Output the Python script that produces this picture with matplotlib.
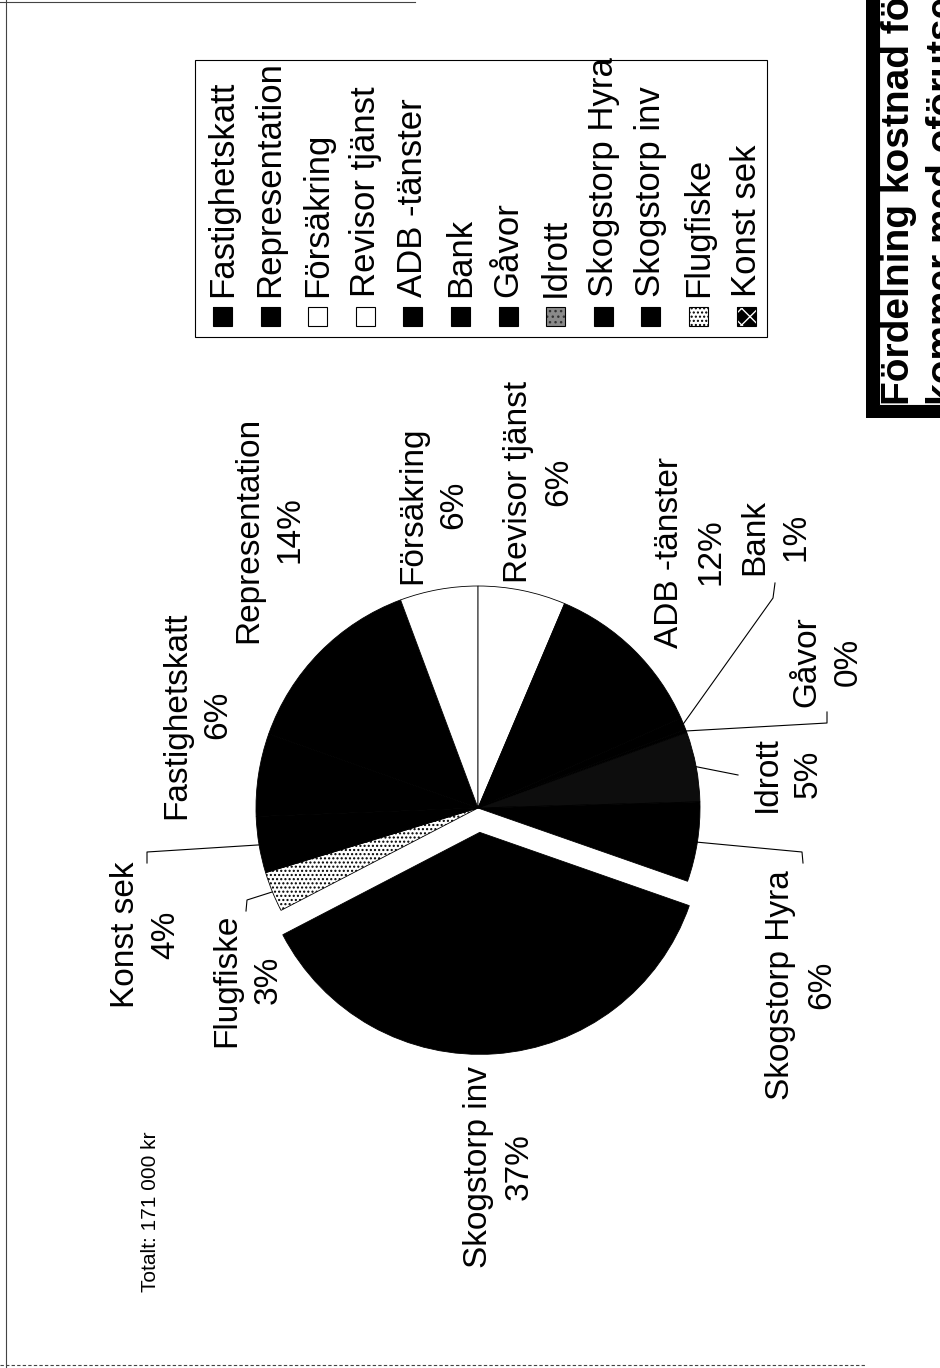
import matplotlib
matplotlib.use("Agg")
import matplotlib.pyplot as plt
from matplotlib.patches import Rectangle
import numpy as np

plt.rcParams['font.family'] = ['Liberation Sans', 'DejaVu Sans']

# Kostnader i kr (totalt 171 000 kr)
categories = ['Fastighetskatt', 'Representation', 'Försäkring', 'Revisor tjänst',
              'ADB -tänster', 'Bank', 'Gåvor', 'Idrott', 'Skogstorp Hyra',
              'Skogstorp inv', 'Flugfiske', 'Konst sek']
amounts = [10300, 23800, 9700, 10900, 20500, 1500, 400, 8700, 9900, 63300, 5000, 7000]
title_lines = ['Fördelning kostnad för', 'kommer med oförutsedda']

total = sum(amounts)
pcts = [f"{round(100 * a / total)}%" for a in amounts]

# styles
slice_colors = ['black', 'black', 'white', 'white', 'black', 'black', 'black',
                '#0d0d0d', 'black', 'black', 'white', 'black']
slice_hatch = [None] * 10 + ['....', None]
explode = [0] * 9 + [0.11, 0, 0]

W, H = 940, 1368
fig = plt.figure(figsize=(W / 100, H / 100), dpi=100)
ov = fig.add_axes([0, 0, 1, 1])
ov.set_xlim(0, W)
ov.set_ylim(H, 0)
ov.axis('off')

# pie, rotated a quarter turn like the scanned page
cx, cy, R = 478, 808, 222
lim = 1.25
pax = fig.add_axes([(cx - lim * R) / W, (H - cy - lim * R) / H, 2 * lim * R / W, 2 * lim * R / H])
wedges, _ = pax.pie(amounts, startangle=182.2, counterclock=False, colors=slice_colors,
                    explode=explode, wedgeprops=dict(edgecolor='black', linewidth=0.6))
for w, h in zip(wedges, slice_hatch):
    if h:
        w.set_hatch(h)
pax.set_xlim(-lim, lim)
pax.set_ylim(-lim, lim)


def edge_point(w):
    th = np.deg2rad((w.theta1 + w.theta2) / 2)
    return cx + R * np.cos(th), cy - R * np.sin(th)


# labels: centre of the name/percent block in page pixels
label_pos = {
    'Fastighetskatt': (197, 715),
    'Representation': (269, 530),
    'Försäkring': (433, 505),
    'Revisor tjänst': (538, 482),
    'ADB -tänster': (690, 552),
    'Bank': (775, 537),
    'Gåvor': (827, 662),
    'Idrott': (787, 774),
    'Skogstorp Hyra': (801, 985),
    'Skogstorp inv': (498, 1167),
    'Flugfiske': (247, 980),
    'Konst sek': (145, 935),
}
for name, p in zip(categories, pcts):
    x, y = label_pos[name]
    ov.text(x - 20, y, name, rotation=90, ha='center', va='center', fontsize=24)
    ov.text(x + 21, y, p, rotation=90, ha='center', va='center', fontsize=24)

# leader lines (end points in page pixels)
leaders = {
    'Konst sek': [(147, 852), (147, 863)],
    'Flugfiske': [(247, 900), (246, 911)],
    'Bank': [(773, 598), (775, 583)],
    'Gåvor': [(827, 723), (827, 712)],
    'Idrott': [(738, 775)],
    'Skogstorp Hyra': [(802, 852), (803, 863)],
}
for name, pts in leaders.items():
    w = wedges[categories.index(name)]
    xs, ys = zip(edge_point(w), *pts)
    ov.plot(xs, ys, color='black', lw=0.8)

ov.text(150, 1212, f"Totalt: {total:,} kr".replace(',', ' '), rotation=90,
        ha='center', va='center', fontsize=15)

# legend box
ov.add_patch(Rectangle((195, 60), 572, 277, fill=False, ec='black', lw=0.8))
leg_fill = ['black', 'black', 'white', 'white', 'black', 'black', 'black', '#8a8a8a',
            'black', 'black', 'white', 'black']
leg_hatch = [None] * 7 + ['...', None, None, '....', 'xx']
leg_hatch_col = ['black'] * 7 + ['#333333', 'black', 'black', 'black', 'white']
for i, name in enumerate(categories):
    x = 222.5 + 47.6 * i
    ov.add_patch(Rectangle((x - 9.5, 307), 19, 19, fc=leg_fill[i], ec=leg_hatch_col[i],
                           hatch=leg_hatch[i], lw=0))
    ov.add_patch(Rectangle((x - 9.5, 307), 19, 19, fill=False, ec='black', lw=0.8))
    ov.text(x, 297, name, rotation=90, ha='center', va='bottom', fontsize=25)

# title box at the right edge
ov.add_patch(Rectangle((866, -10), 120, 428, fc='black', ec='none'))
ov.add_patch(Rectangle((879, -10), 120, 415, fc='white', ec='black', lw=0.8))
ov.text(899, 405, title_lines[0], rotation=90, ha='center', va='bottom',
        fontsize=28, fontweight='bold')
ov.text(944, 405, title_lines[1], rotation=90, ha='center', va='bottom',
        fontsize=28, fontweight='bold')

# page frame from the scan
ov.plot([6, 6], [0, H], color='#444444', lw=0.8)
ov.plot([0, 415], [2, 2], color='#444444', lw=0.8)
ov.plot([0, 865], [1365, 1365], color='#444444', lw=0.8, ls=(0, (3, 2)))

fig.savefig('out.png', dpi=100)
